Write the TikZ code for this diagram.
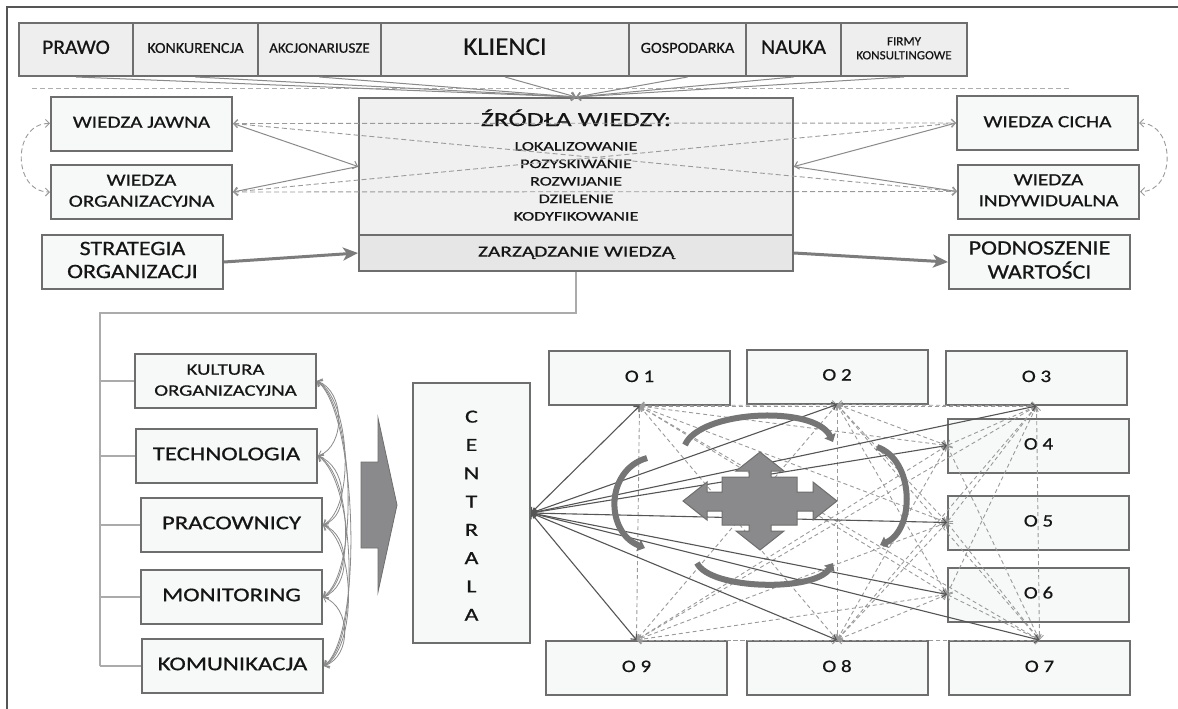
\documentclass[tikz,border=0pt]{standalone}
\usepackage{fontspec}
\setmainfont{Carlito}[FakeBold=0.6]
\usepackage{graphicx}
\usetikzlibrary{arrows.meta,calc}
\definecolor{bord}{HTML}{6E6E6E}
\definecolor{fillA}{HTML}{F7F8F8}
\definecolor{fillT}{HTML}{EEEEEE}
\definecolor{fillC}{HTML}{F0F0F0}
\definecolor{fillZ}{HTML}{E6E6E6}
\definecolor{txt}{HTML}{151515}
\definecolor{lin}{HTML}{8A8A8A}
\definecolor{dk}{HTML}{555555}
\definecolor{dshc}{HTML}{9A9A9A}
\definecolor{blk}{HTML}{8A8A8C}
\definecolor{treec}{HTML}{ABABAB}
\newcommand\tx[4]{\fontsize{#2}{#3}\selectfont\scalebox{#1}[1]{\begin{tabular}{@{}c@{}}#4\end{tabular}}}
\begin{document}
\begin{tikzpicture}[x=1pt,y=-1pt,
  >={Straight Barb[length=4pt,width=8pt]},
  box/.style={draw=bord,line width=2pt,fill=fillA,inner sep=0pt,text=txt,align=center},
  tbox/.style={box,fill=fillT,minimum height=53},
  wbox/.style={box,minimum width=181,minimum height=54},
  sol/.style={draw=lin,line width=1pt},
  dsh/.style={draw=dshc,line width=0.9pt,dash pattern=on 5pt off 3pt},
  thk/.style={draw=lin!90!black,line width=3pt,-{Stealth[length=15pt,width=13pt,inset=4pt]}},
  tree/.style={draw=treec,line width=1.2pt},
  bund/.style={draw=lin,line width=0.8pt,<->},
  solD/.style={draw=dk,line width=1.1pt,<->},
  dshO/.style={draw=dshc,line width=0.9pt,dash pattern=on 4pt off 3pt,<->},
  carc/.style={draw=bord!95!white,line width=6pt,-{Triangle[length=7pt,width=12pt]}},
  lbl/.style={text=txt,inner sep=0pt}]
\useasboundingbox (0,0) rectangle (1178,709);
\fill[white] (0,0) rectangle (1178,709);
\draw[draw=dk,line width=1.5pt] (1178,7) -- (7,7) -- (7,709);

% top row
\node[tbox,minimum width=114] (T1) at (76,49.5) {\tx{1.05}{20.5}{22}{PRAWO}};
\node[tbox,minimum width=125] (T2) at (195.5,49.5) {\tx{1.05}{15.2}{17}{KONKURENCJA}};
\node[tbox,minimum width=123] (T3) at (319.5,49.5) {\tx{1.05}{14.4}{16}{AKCJONARIUSZE}};
\node[tbox,minimum width=248] (T4) at (505,49.5) {\tx{1.05}{25.5}{27}{KLIENCI}};
\node[tbox,minimum width=117] (T5) at (687.5,49.5) {\tx{1.05}{15.5}{17}{GOSPODARKA}};
\node[tbox,minimum width=95] (T6) at (793.5,49.5) {\tx{1.05}{21}{22}{NAUKA}};
\node[tbox,minimum width=126] (T7) at (904,49.5) {\tx{1.05}{12.5}{14}{FIRMY\\KONSULTINGOWE}};
\draw[dsh,draw=dshc!80!white] (32,88) -- (1070,88);

% central box
\node[box,fill=fillC,minimum width=434,minimum height=137] (SRC) at (576,166.5) {};
\node[box,fill=fillZ,minimum width=434,minimum height=36] (ZR) at (576,253) {\tx{1.38}{15.5}{18}{ZARZĄDZANIE WIEDZĄ}};
\node[lbl] (SRCt) at (576,121) {\tx{1.38}{20}{22}{ŹRÓDŁA WIEDZY:}};
\node[lbl] (SRCl) at (576,182) {\tx{1.4}{13}{17.5}{LOKALIZOWANIE\\POZYSKIWANIE\\ROZWIJANIE\\DZIELENIE\\KODYFIKOWANIE}};
\coordinate (srcL) at (SRC.west);
\coordinate (srcR) at (SRC.east);

\foreach \t in {T1,T2,T3,T4,T5,T6,T7} \draw[sol,->] (\t.south) -- (SRC.north);

% side boxes
\node[wbox] (WJ) at (141.5,123.5) {\tx{1.25}{17}{21}{WIEDZA JAWNA}};
\node[wbox] (WO) at (141.5,192) {\tx{1.25}{17}{21}{WIEDZA\\ORGANIZACYJNA}};
\node[wbox] (ST) at (132.5,262) {\tx{1.17}{20.5}{23}{STRATEGIA\\ORGANIZACJI}};
\node[wbox] (WC) at (1047.5,123) {\tx{1.25}{17}{21}{WIEDZA CICHA}};
\node[wbox] (WI) at (1048.5,191.5) {\tx{1.25}{17}{21}{WIEDZA\\INDYWIDUALNA}};
\node[wbox] (PO) at (1039.5,262) {\tx{1.17}{20.5}{23}{PODNOSZENIE\\WARTOŚCI}};

\draw[sol,->] (WJ.east) -- (srcL);
\draw[sol,->] (srcL) -- (WO.east);
\draw[sol,->] (WC.west) -- (srcR);
\draw[sol,->] (srcR) -- (WI.west);
\draw[dsh,<->] (WJ.east) -- (WC.west);
\draw[dsh,<->] (WO.east) -- (WI.west);
\draw[dsh,<->] (WJ.east) -- (WI.west);
\draw[dsh,<->] (WO.east) -- (WC.west);
\draw[dsh,<->] (WJ.west) .. controls (12,123) and (12,192) .. (WO.west);
\draw[dsh,<->] (WC.east) .. controls (1176,123) and (1176,192) .. (WI.east);
\draw[thk] (ST.east) -- (ZR.west);
\draw[thk] (ZR.east) -- (PO.west);

% lower left
\node[wbox] (L1) at (225.5,381) {\tx{1.3}{16}{21}{KULTURA\\ORGANIZACYJNA}};
\node[wbox] (L2) at (226.5,456) {\tx{1.27}{19.5}{21}{TECHNOLOGIA}};
\node[wbox] (L3) at (231.5,525) {\tx{1.27}{19.5}{21}{PRACOWNICY}};
\node[wbox] (L4) at (231.5,597) {\tx{1.27}{19.5}{21}{MONITORING}};
\node[wbox] (L5) at (232.5,666) {\tx{1.27}{19.5}{21}{KOMUNIKACJA}};
\coordinate (tA) at (576,313);
\coordinate (tB) at (100,313);
\coordinate (tC) at (100,666);
\draw[tree] (ZR.south) -- (tA) -- (tB) -- (tC);
\foreach \n in {L1,L2,L3,L4,L5} \draw[tree] (tB |- \n.west) -- (\n.west);
\foreach \a/\b/\px/\py in {L1/L2/28/10,L2/L3/28/10,L3/L4/28/10,L4/L5/28/10,L1/L3/33/18,L2/L4/33/18,L3/L5/33/18,L1/L4/37/25,L2/L5/37/25,L1/L5/40/32}
  \draw[bund] (\a.east) .. controls ($(\a.east)+(\px,\py)$) and ($(\b.east)+(\px,-\py)$) .. (\b.east);

% block arrow
\filldraw[fill=blk,draw=bord,line width=0.8pt] (361,462) -- (378,462) -- (378,418) -- (397,505) -- (378,592) -- (378,548) -- (361,548) -- cycle;

% centrala
\node[box,minimum width=117,minimum height=260] (CE) at (471.5,513) {};
\node[lbl] (CEt) at (471.5,516) {\tx{1.3}{18.5}{28.3}{C\\E\\N\\T\\R\\A\\L\\A}};

% O boxes
\node[wbox] (O1) at (639.5,378) {\tx{1.2}{17.5}{20}{O 1}};
\node[wbox] (O2) at (837,376.5) {\tx{1.2}{17.5}{20}{O 2}};
\node[wbox] (O3) at (1036.5,378) {\tx{1.2}{17.5}{20}{O 3}};
\node[wbox] (O4) at (1038.5,445.5) {\tx{1.2}{17.5}{20}{O 4}};
\node[wbox] (O5) at (1038.5,522.5) {\tx{1.2}{17.5}{20}{O 5}};
\node[wbox] (O6) at (1038.5,594.5) {\tx{1.2}{17.5}{20}{O 6}};
\node[wbox] (O7) at (1039.5,668) {\tx{1.2}{17.5}{20}{O 7}};
\node[wbox] (O8) at (837,668) {\tx{1.2}{17.5}{20}{O 8}};
\node[wbox] (O9) at (636.5,668) {\tx{1.2}{17.5}{20}{O 9}};
\coordinate (p1) at (O1.south);
\coordinate (p2) at (O2.south);
\coordinate (p3) at (O3.south);
\coordinate (p4) at (O4.west);
\coordinate (p5) at (O5.west);
\coordinate (p6) at (O6.west);
\coordinate (p7) at (O7.north);
\coordinate (p8) at (O8.north);
\coordinate (p9) at (O9.north);
\foreach \a/\b in {1/2,1/3,1/4,1/5,1/6,1/7,1/8,1/9,2/3,2/4,2/5,2/6,2/7,2/8,2/9,3/4,3/5,3/6,3/7,3/8,3/9,4/7,4/8,4/9,5/7,5/8,5/9,6/7,6/8,6/9,7/8,7/9,8/9}
  \draw[dshO] (p\a) -- (p\b);
\foreach \k in {1,...,9} \draw[solD] (CE.east) -- (p\k);

% four-way arrow
\filldraw[fill=blk,draw=bord,line width=1pt] (760,452) -- (784,471) -- (771,471) -- (771,477) -- (797,477) -- (797,492) -- (813,492) -- (813,482) -- (837,501) -- (813,520) -- (813,511) -- (797,511) -- (797,525) -- (771,525) -- (771,531) -- (784,531) -- (760,550) -- (736,531) -- (749,531) -- (749,525) -- (722,525) -- (722,511) -- (707,511) -- (707,520) -- (683,501) -- (707,482) -- (707,492) -- (722,492) -- (722,477) -- (749,477) -- (749,471) -- (736,471) -- cycle;

% circular arrows
\draw[carc] (685,445) .. controls (700,410) and (815,405) .. (833,442);
\draw[carc] (877,447) .. controls (915,460) and (915,530) .. (880,545);
\draw[carc] (697,563) .. controls (710,590) and (815,592) .. (833,563);
\draw[carc] (647,458) .. controls (605,470) and (605,532) .. (645,548);
\end{tikzpicture}
\end{document}
